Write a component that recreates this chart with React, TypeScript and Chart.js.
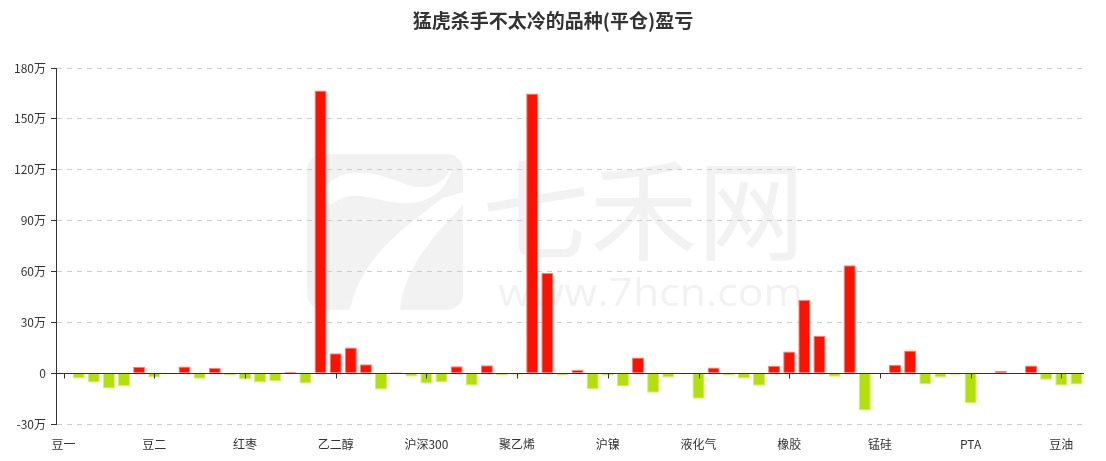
import React, { useEffect, useRef } from "react";
import { Chart, registerables } from "chart.js";

Chart.register(...registerables);

const TITLE = "猛虎杀手不太冷的品种(平仓)盈亏";

const categories: string[] = [
  "豆一", "豆粕", "玉米", "玉米淀粉", "鸡蛋", "生猪",
  "豆二", "棕榈油", "菜粕", "菜油", "白糖", "棉花",
  "红枣", "苹果", "花生", "棉纱", "甲醇", "尿素",
  "乙二醇", "苯乙烯", "PVC", "聚丙烯", "纯碱", "玻璃",
  "沪深300", "上证50", "中证500", "十年国债", "五年国债", "二年国债",
  "聚乙烯", "沪铜", "沪铝", "沪锌", "沪铅", "沪锡",
  "沪镍", "不锈钢", "沪金", "沪银", "原油", "燃料油",
  "液化气", "沥青", "低硫燃料油", "螺纹钢", "热卷", "线材",
  "橡胶", "20号胶", "纸浆", "铁矿石", "焦炭", "焦煤",
  "锰硅", "硅铁", "动力煤", "短纤", "粳米", "强麦",
  "PTA", "普麦", "早籼稻", "晚籼稻", "油菜籽", "胶合板",
  "豆油", "纤维板",
];

// 盈亏, unit: 万
const profit: number[] = [
  0, -3.1, -5.5, -9.0, -7.7, 3.7,
  -2.6, -0.8, 3.9, -3.3, 3.1, -1.2,
  -3.5, -5.5, -4.7, 0.8, -6.1, 166.7,
  11.7, 15.2, 5.3, -9.6, 0.6, -2.0,
  -6.1, -5.3, 4.1, -7.3, 4.7, -1.2,
  -1.0, 165.0, 59.0, -1.2, 1.8, -9.4,
  -1.4, -7.7, 9.2, -11.6, -2.6, -0.8,
  -15.1, 3.3, -1.4, -3.1, -7.5, 4.4,
  12.7, 43.2, 22.0, -2.2, 63.7, -22.0,
  0, 4.9, 13.4, -6.5, -2.6, -1.0,
  -17.7, 0, 1.2, -0.2, 4.5, -3.9,
  -7.3, -6.7,
];

const Y_MIN = -30;
const Y_MAX = 180;
const Y_STEP = 30;
const LABEL_INTERVAL = 6;

const RED = "#ff1100";
const RED_EDGE = "#ff7d75";
const GREEN = "#b3e00b";
const GREEN_EDGE = "#d3ef6e";
const FONT = "'Noto Sans CJK SC', 'Noto Sans', sans-serif";

const decorPlugin = {
  id: "decor",
  beforeDraw(chart: any) {
    const ctx = chart.ctx as CanvasRenderingContext2D;
    ctx.save();
    ctx.fillStyle = "#ffffff";
    ctx.fillRect(0, 0, chart.width, chart.height);
    // watermark
    const g = "#f2f2f2";
    ctx.fillStyle = g;
    ctx.beginPath();
    (ctx as any).roundRect(307, 154, 156, 156, 16);
    ctx.fill();
    ctx.fillStyle = "#ffffff";
    ctx.beginPath();
    ctx.moveTo(326, 186);
    ctx.bezierCurveTo(345, 165, 375, 172, 405, 184);
    ctx.bezierCurveTo(425, 192, 445, 185, 452, 166);
    ctx.bezierCurveTo(448, 190, 430, 205, 400, 203);
    ctx.bezierCurveTo(375, 201, 355, 190, 338, 200);
    ctx.bezierCurveTo(330, 205, 326, 210, 326, 186);
    ctx.closePath();
    ctx.fill();
    ctx.beginPath();
    ctx.moveTo(443, 198);
    ctx.lineTo(463, 192);
    ctx.lineTo(463, 205);
    ctx.bezierCurveTo(435, 235, 405, 265, 400, 310);
    ctx.lineTo(350, 310);
    ctx.bezierCurveTo(360, 260, 400, 230, 443, 198);
    ctx.closePath();
    ctx.fill();

    ctx.fillStyle = g;
    ctx.textBaseline = "alphabetic";
    ctx.textAlign = "left";
    ctx.font = `110px ${FONT}`;
    const w1 = ctx.measureText("七禾网").width;
    ctx.save();
    ctx.translate(482, 252);
    ctx.scale(323 / w1, 1);
    ctx.fillText("七禾网", 0, 0);
    ctx.restore();
    ctx.font = `38px 'Open Sans', 'Noto Sans', sans-serif`;
    const w2 = ctx.measureText("www.7hcn.com").width;
    ctx.save();
    ctx.translate(498, 306);
    ctx.scale(305 / w2, 1);
    ctx.fillText("www.7hcn.com", 0, 0);
    ctx.restore();

    // title
    ctx.fillStyle = "#333333";
    ctx.font = `bold 19px ${FONT}`;
    ctx.textAlign = "center";
    ctx.textBaseline = "middle";
    ctx.fillText(TITLE, chart.width / 2, 21);
    ctx.restore();
  },
  afterDatasetsDraw(chart: any) {
    const ctx = chart.ctx as CanvasRenderingContext2D;
    const x = chart.scales.x;
    const y = chart.scales.y;
    const y0 = Math.round(y.getPixelForValue(0)) + 0.5;
    ctx.save();
    ctx.strokeStyle = "#333333";
    ctx.lineWidth = 1;
    ctx.beginPath();
    ctx.moveTo(chart.chartArea.left, y0);
    ctx.lineTo(chart.chartArea.right, y0);
    for (let i = 0; i < categories.length; i += LABEL_INTERVAL) {
      const px = Math.round(x.getPixelForValue(i)) + 0.5;
      ctx.moveTo(px, y0);
      ctx.lineTo(px, y0 + 5);
    }
    ctx.stroke();
    ctx.restore();
  },
};

export default function App() {
  const ref = useRef<HTMLCanvasElement | null>(null);
  useEffect(() => {
    if (!ref.current) return;
    const chart = new Chart(ref.current, {
      type: "bar",
      data: {
        labels: categories,
        datasets: [
          {
            data: profit,
            backgroundColor: (c: any) => ((c.raw ?? 0) >= 0 ? RED : GREEN),
            borderColor: (c: any) => ((c.raw ?? 0) >= 0 ? RED_EDGE : GREEN_EDGE),
            borderWidth: 1,
            barPercentage: 0.8,
            categoryPercentage: 1,
          },
        ],
      },
      plugins: [decorPlugin],
      options: {
        responsive: false,
        animation: false,
        devicePixelRatio: 1,
        layout: { padding: { left: 0, right: 22, top: 68, bottom: 0 } },
        plugins: {
          legend: { display: false },
          title: { display: false },
          tooltip: { enabled: false },
        },
        scales: {
          x: {
            offset: true,
            grid: { display: false },
            border: { display: false },
            ticks: {
              autoSkip: false,
              maxRotation: 0,
              minRotation: 0,
              padding: 5,
              color: "#333333",
              font: { size: 12, family: FONT },
              callback: (_v: any, i: number) =>
                i % LABEL_INTERVAL === 0 ? categories[i] : "",
            },
            afterFit: (s: any) => {
              s.height = 37;
            },
          },
          y: {
            min: Y_MIN,
            max: Y_MAX,
            ticks: {
              stepSize: Y_STEP,
              padding: 5,
              color: "#333333",
              font: { size: 12, family: FONT },
              callback: (v: any) => (Number(v) === 0 ? "0" : `${v}万`),
            },
            grid: {
              color: (c: any) => (c.tick && c.tick.value === 0 ? "rgba(0,0,0,0)" : "#cccccc"),
              tickColor: "#333333",
              tickLength: 5,
              lineWidth: 1,
            },
            border: { display: true, color: "#333333", width: 1, dash: [5, 5] },
            afterFit: (s: any) => {
              s.width = 56;
            },
          },
        },
      },
    });
    return () => chart.destroy();
  }, []);
  return (
    <div style={{ position: "fixed", left: 0, top: 0, width: 1106, height: 461 }}>
      <canvas ref={ref} width={1106} height={461} />
    </div>
  );
}
